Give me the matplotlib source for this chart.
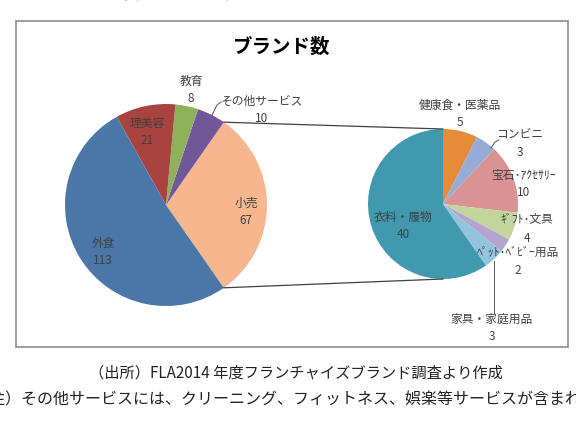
import matplotlib
matplotlib.use("Agg")
import matplotlib.pyplot as plt
import numpy as np
from matplotlib.patches import Rectangle

plt.rcParams['font.family'] = ['Noto Sans CJK JP', 'DejaVu Sans']

# main pie (counterclockwise from the split slice)
main_names = ["小売", "その他サービス", "教育", "理美容", "外食"]
main_values = [67, 10, 8, 21, 113]
main_colors = ["#F8B68E", "#70579A", "#8DB25A", "#A9433F", "#4A76A8"]

# breakdown of 小売 (clockwise from top)
sub_names = ["健康食・医薬品", "コンビニ", "宝石･ｱｸｾｻﾘｰ", "ｷﾞﾌﾄ･文具",
             "ﾍﾟｯﾄ･ﾍﾞﾋﾞｰ用品", "家具・家庭用品", "衣料・履物"]
sub_values = [5, 3, 10, 4, 2, 3, 40]
sub_colors = ["#E58B3A", "#95ACD6", "#D89392", "#C2D69C",
              "#B4A5CE", "#92C5DA", "#4199B0"]

W, H = 576, 431


def py(y):
  # pixel row -> axis y (axis y grows upward)
  return H - y


fig = plt.figure(figsize=(5.76, 4.31), dpi=100, facecolor="white")
ax = fig.add_axes([0, 0, 1, 1])

# chart frame
ax.add_patch(Rectangle((16, py(348)), 552, 326, fill=False,
                       edgecolor="#8C8C8C", linewidth=1.2))

main_c = (166, py(206))
main_r = 101
half = main_values[0] / sum(main_values) * 180
ax.pie(main_values, colors=main_colors, startangle=-half, counterclock=True,
       center=main_c, radius=main_r, frame=True,
       wedgeprops=dict(linewidth=0))

sub_c = (443, py(205))
sub_r = 75
ax.pie(sub_values, colors=sub_colors, startangle=90, counterclock=False,
       center=sub_c, radius=sub_r, frame=True,
       wedgeprops=dict(linewidth=0))
ax.set_xlim(0, W)
ax.set_ylim(0, H)
ax.set_aspect("equal")
ax.set_axis_off()

# connector lines between the two pies
a = np.deg2rad(half)
ax.plot([main_c[0] + main_r * np.cos(a), sub_c[0]],
        [main_c[1] + main_r * np.sin(a), sub_c[1] + sub_r], color="#404040", lw=0.9)
ax.plot([main_c[0] + main_r * np.cos(-a), sub_c[0]],
        [main_c[1] + main_r * np.sin(-a), sub_c[1] - sub_r], color="#404040", lw=0.9)

lab_color = "#404040"
main_pos = [(246, 212), (262, 110), (191, 90), (147, 132), (103, 252)]
for name, val, (x, y) in zip(main_names, main_values, main_pos):
  ax.text(x, py(y), "{}\n{}".format(name, val), ha="center", va="center",
          fontsize=8.5, color=lab_color, linespacing=1.5)

sub_pos = [(460, 114), (520, 144), (524, 184), (527, 229),
           (518, 261), (492, 328), (403, 226)]
for name, val, (x, y) in zip(sub_names, sub_values, sub_pos):
  ax.text(x, py(y), "{}\n{}".format(name, val), ha="center", va="center",
          fontsize=8.5, color=lab_color, linespacing=1.5)

# leader lines
ax.plot([212, 217, 221], [py(116), py(106), py(103)], color="#555555", lw=0.7)
ax.plot([491, 495, 499], [py(149), py(143), py(141)], color="#555555", lw=0.7)
ax.plot([494, 494], [py(262), py(314)], color="#555555", lw=0.7)

ax.text(282, py(47), "ブランド数", ha="center", va="center",
        fontsize=14, fontweight="bold", color="black")

ax.text(291, py(-5), "図表 1 フランチャイズブランドの業態別ブランド数",
        ha="center", va="center", fontsize=11.5, color="#222222")
ax.text(296, py(373), "（出所）FLA2014 年度フランチャイズブランド調査より作成",
        ha="center", va="center", fontsize=11, color="#222222")
ax.text(-26, py(400), "（注）その他サービスには、クリーニング、フィットネス、娯楽等サービスが含まれる。",
        ha="left", va="center", fontsize=11.5, color="#222222")

fig.savefig("out.png", dpi=100, facecolor="white")
